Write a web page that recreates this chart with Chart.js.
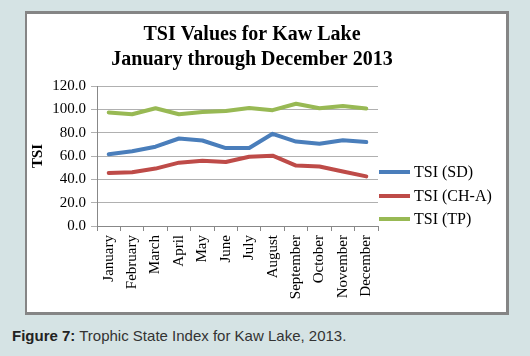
<!DOCTYPE html>
<html>
<head>
<meta charset="utf-8">
<script src="https://cdn.jsdelivr.net/npm/chart.js@4/dist/chart.umd.min.js"></script>
<style>
  html, body { margin: 0; padding: 0; }
  body { width: 530px; height: 356px; background: #d5e3e4; position: relative; overflow: hidden; }
  #panel { position: absolute; left: 25px; top: 11px; width: 479px; height: 298px; background: #fff;
           border-left: 2px solid #858585; border-top: 3px solid #858585; border-right: 3px solid #858585; border-bottom: 3px solid #858585; }
  #wrap { position: absolute; left: 4px; top: 14px; width: 496px; height: 295px; }
  #caption { position: absolute; left: 12px; top: 327px; font: 15px "Liberation Sans", Arial, sans-serif; color: #333; white-space: nowrap; }
  #caption b { color: #222; }
</style>
</head>
<body>
<div id="panel"></div>
<div id="wrap"><canvas id="c" width="496" height="295"></canvas></div>
<div id="caption"><b>Figure 7:</b> Trophic State Index for Kaw Lake, 2013.</div>
<script>
const months = ["January","February","March","April","May","June","July","August","September","October","November","December"];
const tsiSD  = [61.5, 64.0, 68.0, 75.0, 73.3, 66.8, 66.8, 79.0, 72.4, 70.5, 73.5, 72.0];
const tsiCHA = [45.4, 46.0, 49.2, 54.3, 56.0, 54.8, 59.4, 60.3, 51.8, 51.0, 46.7, 42.5];
const tsiTP  = [97.3, 95.8, 100.9, 95.8, 97.7, 98.6, 101.2, 99.3, 104.8, 100.9, 102.8, 100.7];
const yTicks = ["0.0","20.0","40.0","60.0","80.0","100.0","120.0"];
const seriesNames = ["TSI (SD)", "TSI (CH-A)", "TSI (TP)"];
const titleLines = ["TSI Values for Kaw Lake", "January through December 2013"];

const SERIF = '"Liberation Serif", "Times New Roman", serif';

const legendPlugin = {
  id: 'sideLegend',
  afterDraw(chart) {
    const ctx = chart.ctx;
    const ys = [158, 182, 205];
    ctx.save();
    ctx.font = '16px ' + SERIF;
    ctx.textBaseline = 'middle';
    ctx.fillStyle = '#000';
    chart.data.datasets.forEach((ds, i) => {
      ctx.strokeStyle = ds.borderColor;
      ctx.lineWidth = 4;
      ctx.beginPath();
      ctx.moveTo(chart.chartArea.right + 1, ys[i]);
      ctx.lineTo(chart.chartArea.right + 32, ys[i]);
      ctx.stroke();
      ctx.fillText(ds.label, chart.chartArea.right + 36, ys[i] + 1);
    });
    ctx.restore();
  }
};

new Chart(document.getElementById('c'), {
  type: 'line',
  data: {
    labels: months,
    datasets: [
      { label: seriesNames[0], data: tsiSD,  borderColor: '#4a7ebb', backgroundColor: '#4a7ebb' },
      { label: seriesNames[1], data: tsiCHA, borderColor: '#be4b48', backgroundColor: '#be4b48' },
      { label: seriesNames[2], data: tsiTP,  borderColor: '#98b954', backgroundColor: '#98b954' }
    ]
  },
  options: {
    responsive: false,
    animation: false,
    devicePixelRatio: 1,
    layout: { padding: 0 },
    elements: {
      line: { borderWidth: 4, tension: 0, borderCapStyle: 'round', borderJoinStyle: 'round' },
      point: { radius: 0, hoverRadius: 0 }
    },
    plugins: {
      legend: { display: false },
      tooltip: { enabled: false },
      title: {
        display: true,
        text: titleLines,
        color: '#000',
        font: { family: SERIF, size: 20, weight: 'bold', lineHeight: 1.25 },
        padding: { top: 8, bottom: 14 }
      }
    },
    scales: {
      x: {
        type: 'category',
        offset: true,
        grid: { offset: true, drawOnChartArea: false, drawTicks: true, tickLength: 5, color: '#888' },
        border: { display: true, color: '#888', width: 1 },
        ticks: { autoSkip: false, minRotation: 90, maxRotation: 90, padding: 4, color: '#000', font: { family: SERIF, size: 15 } },
        afterFit(scale) { scale.height = 83; }
      },
      y: {
        min: 0, max: 120,
        ticks: { stepSize: 20, padding: 5, color: '#000', font: { family: SERIF, size: 15 },
                 callback: (v, i) => yTicks[i] },
        grid: { color: '#b0b0b0', drawTicks: true, tickLength: 6, lineWidth: 1 },
        border: { display: true, color: '#888', width: 1 },
        title: { display: true, text: 'TSI', color: '#000', font: { family: SERIF, size: 15, weight: 'bold', lineHeight: 1.2 }, padding: { top: 25, bottom: 0 } },
        afterFit(scale) { scale.width = 93; }
      },
      legendSpace: {
        type: 'linear',
        position: 'right',
        display: true,
        grid: { display: false, drawTicks: false },
        border: { display: false },
        ticks: { display: false },
        afterFit(scale) { scale.width = 122; }
      }
    }
  },
  plugins: [legendPlugin]
});
</script>
</body>
</html>
